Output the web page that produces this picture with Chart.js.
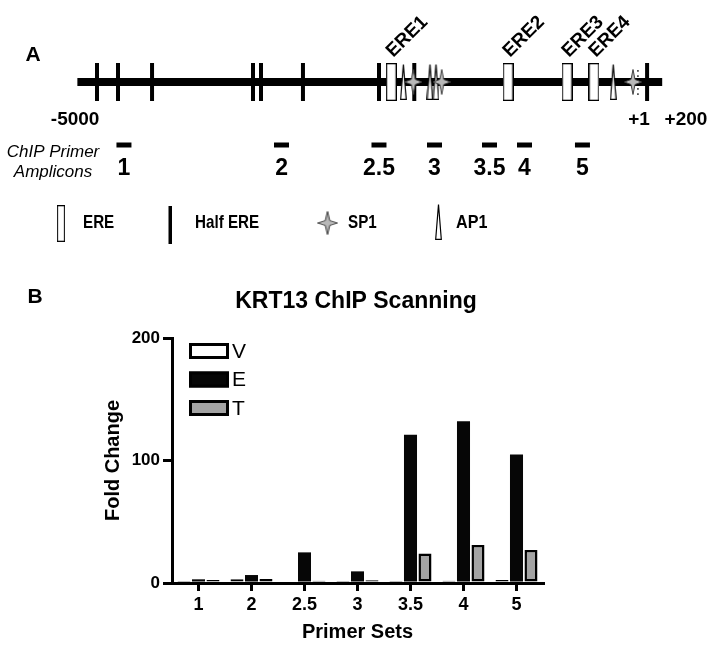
<!DOCTYPE html>
<html>
<head>
<meta charset="utf-8">
<script src="https://cdn.jsdelivr.net/npm/chart.js@4.4.1/dist/chart.umd.min.js"></script>
<style>
  body { margin: 0; background: #fff; }
  #page { position: relative; width: 716px; height: 650px; }
  .box { position: absolute; left: 0; width: 716px; }
</style>
</head>
<body>
<div id="page">
  <div class="box" style="top:0;height:280px"><canvas id="mapChart"></canvas></div>
  <div class="box" style="top:280px;height:370px"><canvas id="chipChart"></canvas></div>
</div>
<script>
// promoter map, positions in bp relative to the TSS (schematic)
const promoterStart = -5050;
const promoterEnd = 135;
const halfErePos = [-4876, -4690, -4388, -3493, -3422, -3050, -2376, -2063, 1];
const erePos = [-2267, -1232, -709, -470];
const ereNames = ["ERE1", "ERE2", "ERE3", "ERE4"];
const ap1Pos = [-2160, -1924, -1871, -299];
const sp1Pos = [-2072, -1820, -124];
const ampliconNames = ["1", "2", "2.5", "3", "3.5", "4", "5"];
const ampliconPos = [-4637, -3240, -2376, -1884, -1396, -1086, -572];
const endLabels = ["-5000", "+1", "+200"];
const endLabelPos = [-5070, -70, 346];

// ChIP scanning, fold change per primer set
const primerSets = ["1", "2", "2.5", "3", "3.5", "4", "5"];
const foldV = [1.6, 3, 1.3, 1.6, 1.6, 1.9, 2.4];
const foldE = [3, 6.5, 25, 9.5, 121, 132, 105];
const foldT = [2.5, 3.3, 1.9, 2.2, 24, 31, 27];
const foldTicks = [0, 100, 200];

const FONT = '"Liberation Sans", Arial, Helvetica, sans-serif';
Chart.defaults.font.family = FONT;
Chart.defaults.color = "#000";

// rows of the map (pixels from the top of the map canvas)
const ROW_LINE = 82, ROW_AMP = 145, ROW_AMP_LABEL = 169, ROW_LEGEND = 223;

function makeGlyph(w, h, draw) {
    const c = document.createElement("canvas");
    c.width = w;
    c.height = h;
    draw(c.getContext("2d"), w, h);
    return c;
}

const ereGlyph = makeGlyph(11, 38, (g, w, h) => {
    g.fillStyle = "#fff";
    g.strokeStyle = "#000";
    g.lineWidth = 1.3;
    g.fillRect(0.65, 0.65, w - 1.3, h - 1.3);
    g.strokeRect(0.65, 0.65, w - 1.3, h - 1.3);
});

const ap1Glyph = makeGlyph(7, 36, (g, w, h) => {
    g.beginPath();
    g.moveTo(w / 2, 0.5);
    g.lineTo(w - 0.7, h - 0.7);
    g.lineTo(0.7, h - 0.7);
    g.closePath();
    g.fillStyle = "#fff";
    g.fill();
    g.strokeStyle = "#000";
    g.lineWidth = 1.2;
    g.stroke();
});

const sp1Glyph = makeGlyph(18, 26, (g, w, h) => {
    const cx = w / 2, cy = h / 2;
    g.beginPath();
    g.moveTo(cx, 0.5);
    g.lineTo(cx + 2, cy - 2.5);
    g.lineTo(w - 0.5, cy);
    g.lineTo(cx + 2, cy + 2.5);
    g.lineTo(cx, h - 0.5);
    g.lineTo(cx - 2, cy + 2.5);
    g.lineTo(0.5, cy);
    g.lineTo(cx - 2, cy - 2.5);
    g.closePath();
    g.fillStyle = "#b8b8b8";
    g.fill();
    g.strokeStyle = "#444";
    g.lineWidth = 1;
    g.stroke();
});

const at = (arr, row) => arr.map(v => ({ x: v, y: row }));

function narrowText(ctx, text, x, y, sx) {
    ctx.save();
    ctx.translate(x, y);
    ctx.scale(sx, 1);
    ctx.fillText(text, 0, 0);
    ctx.restore();
}

const mapLabels = {
    id: "mapLabels",
    afterDraw(chart) {
        const { ctx, scales: { x } } = chart;
        ctx.save();
        ctx.fillStyle = "#000";
        ctx.textBaseline = "middle";
        ctx.textAlign = "center";

        ctx.font = "bold 21px " + FONT;
        ctx.fillText("A", 33, 55);

        // rotated ERE names
        ctx.font = "bold 19px " + FONT;
        ctx.textAlign = "left";
        ctx.textBaseline = "alphabetic";
        erePos.forEach((p, i) => {
            ctx.save();
            ctx.translate(x.getPixelForValue(p) + 2, 58);
            ctx.rotate(-Math.PI / 4);
            ctx.fillText(ereNames[i], 0, 0);
            ctx.restore();
        });

        // the little dotted mark next to the TSS
        ctx.font = "bold 13px " + FONT;
        ctx.textAlign = "center";
        ctx.textBaseline = "middle";
        ctx.fillStyle = "#555";
        ctx.fillText(":", x.getPixelForValue(-80), 73);
        ctx.fillText(":", x.getPixelForValue(-80), 91);
        ctx.fillStyle = "#000";

        ctx.font = "bold 19px " + FONT;
        endLabels.forEach((t, i) => ctx.fillText(t, x.getPixelForValue(endLabelPos[i]), 120));

        ctx.font = "italic 17px " + FONT;
        ctx.fillText("ChIP Primer", 53, 152);
        ctx.fillText("Amplicons", 53, 172);

        ctx.font = "bold 23px " + FONT;
        ampliconNames.forEach((t, i) => ctx.fillText(t, x.getPixelForValue(ampliconPos[i]), ROW_AMP_LABEL));

        // key row
        ctx.drawImage(ereGlyph, 57, ROW_LEGEND - 18, 8, 37);
        ctx.fillRect(168.5, ROW_LEGEND - 17, 3.5, 38);
        ctx.drawImage(sp1Glyph, 317, ROW_LEGEND - 12, 21, 24);
        ctx.drawImage(ap1Glyph, 435, ROW_LEGEND - 19);
        ctx.font = "bold 19px " + FONT;
        ctx.textAlign = "left";
        narrowText(ctx, "ERE", 83, ROW_LEGEND, 0.8);
        narrowText(ctx, "Half ERE", 195, ROW_LEGEND, 0.8);
        narrowText(ctx, "SP1", 348, ROW_LEGEND, 0.8);
        narrowText(ctx, "AP1", 456, ROW_LEGEND, 0.85);
        ctx.restore();
    }
};

new Chart(document.getElementById("mapChart"), {
    type: "scatter",
    data: {
        datasets: [
            {
                label: "SP1",
                data: at(sp1Pos, ROW_LINE),
                pointStyle: sp1Glyph,
                order: 1,
            },
            {
                label: "AP1",
                data: at(ap1Pos, ROW_LINE),
                pointStyle: ap1Glyph,
                order: 2,
            },
            {
                label: "ERE",
                data: at(erePos, ROW_LINE),
                pointStyle: ereGlyph,
                order: 3,
            },
            {
                label: "Half ERE",
                data: at(halfErePos, ROW_LINE),
                pointStyle: "line",
                pointRotation: 90,
                pointRadius: 19,
                pointBorderWidth: 4,
                pointBorderColor: "#000",
                order: 4,
            },
            {
                label: "Promoter",
                data: at([promoterStart, promoterEnd], ROW_LINE),
                showLine: true,
                borderColor: "#000",
                borderWidth: 8,
                pointRadius: 0,
                order: 5,
            },
            {
                label: "Amplicons",
                data: at(ampliconPos, ROW_AMP),
                pointStyle: "line",
                pointRadius: 7.5,
                pointBorderWidth: 5,
                pointBorderColor: "#000",
                order: 5,
            },
        ],
    },
    options: {
        responsive: true,
        maintainAspectRatio: false,
        animation: false,
        events: [],
        layout: { padding: 0, autoPadding: false },
        scales: {
            x: { type: "linear", min: -5736, max: 612, display: false },
            y: { min: 0, max: 280, reverse: true, display: false },
        },
        plugins: { legend: { display: false }, tooltip: { enabled: false } },
    },
    plugins: [mapLabels],
});

const chipExtras = {
    id: "chipExtras",
    afterDraw(chart) {
        const { ctx } = chart;
        ctx.save();
        ctx.fillStyle = "#000";
        ctx.textBaseline = "middle";
        ctx.textAlign = "center";
        ctx.font = "bold 21px " + FONT;
        ctx.fillText("B", 35, 17);
        ctx.font = "bold 23px " + FONT;
        ctx.fillText("KRT13 ChIP Scanning", 356, 22);

        const left = chart.chartArea.left + 17;
        chart.data.datasets.forEach((ds, i) => {
            const top = 63 + i * 28.5;
            ctx.fillStyle = ds.backgroundColor;
            ctx.fillRect(left, top, 40, 16);
            ctx.lineWidth = 3;
            ctx.strokeStyle = "#000";
            ctx.strokeRect(left + 1.5, top + 1.5, 37, 13);
            ctx.fillStyle = "#000";
            ctx.font = "21px " + FONT;
            ctx.textAlign = "left";
            ctx.fillText(ds.label, left + 43, top + 9);
        });
        ctx.restore();
    }
};

new Chart(document.getElementById("chipChart"), {
    type: "bar",
    data: {
        labels: primerSets,
        datasets: [
            { label: "V", data: foldV, backgroundColor: "#ffffff", borderColor: "#000", borderWidth: 2.5, borderSkipped: false },
            { label: "E", data: foldE, backgroundColor: "#060606", borderColor: "#000", borderWidth: 0 },
            { label: "T", data: foldT, backgroundColor: "#a3a3a3", borderColor: "#000", borderWidth: 2.5, borderSkipped: false },
        ],
    },
    options: {
        responsive: true,
        maintainAspectRatio: false,
        animation: false,
        events: [],
        categoryPercentage: 0.82,
        barPercentage: 0.9,
        layout: { padding: { left: 100, top: 58, right: 173, bottom: 0 } },
        scales: {
            x: {
                afterFit: (s) => { s.height = 67; },
                grid: { drawOnChartArea: false, offset: false, tickLength: 8, lineWidth: 3, color: "#000" },
                border: { color: "#000", width: 3 },
                ticks: { font: { size: 18, weight: "bold" }, padding: 3 },
                title: {
                    display: true,
                    text: "Primer Sets",
                    font: { size: 20, weight: "bold" },
                    padding: { top: 0, bottom: 6 },
                },
            },
            y: {
                min: 0,
                max: 200,
                afterFit: (s) => { s.width = 72; },
                afterBuildTicks: (s) => { s.ticks = foldTicks.map(v => ({ value: v })); },
                grid: { drawOnChartArea: false, tickLength: 9, lineWidth: 3, color: "#000" },
                border: { color: "#000", width: 3 },
                ticks: { font: { size: 17, weight: "bold" }, padding: 3 },
                title: {
                    display: true,
                    text: "Fold Change",
                    font: { size: 20, weight: "bold" },
                    padding: { top: 1, bottom: 0 },
                },
            },
        },
        plugins: { legend: { display: false }, tooltip: { enabled: false } },
    },
    plugins: [chipExtras],
});
</script>
</body>
</html>
